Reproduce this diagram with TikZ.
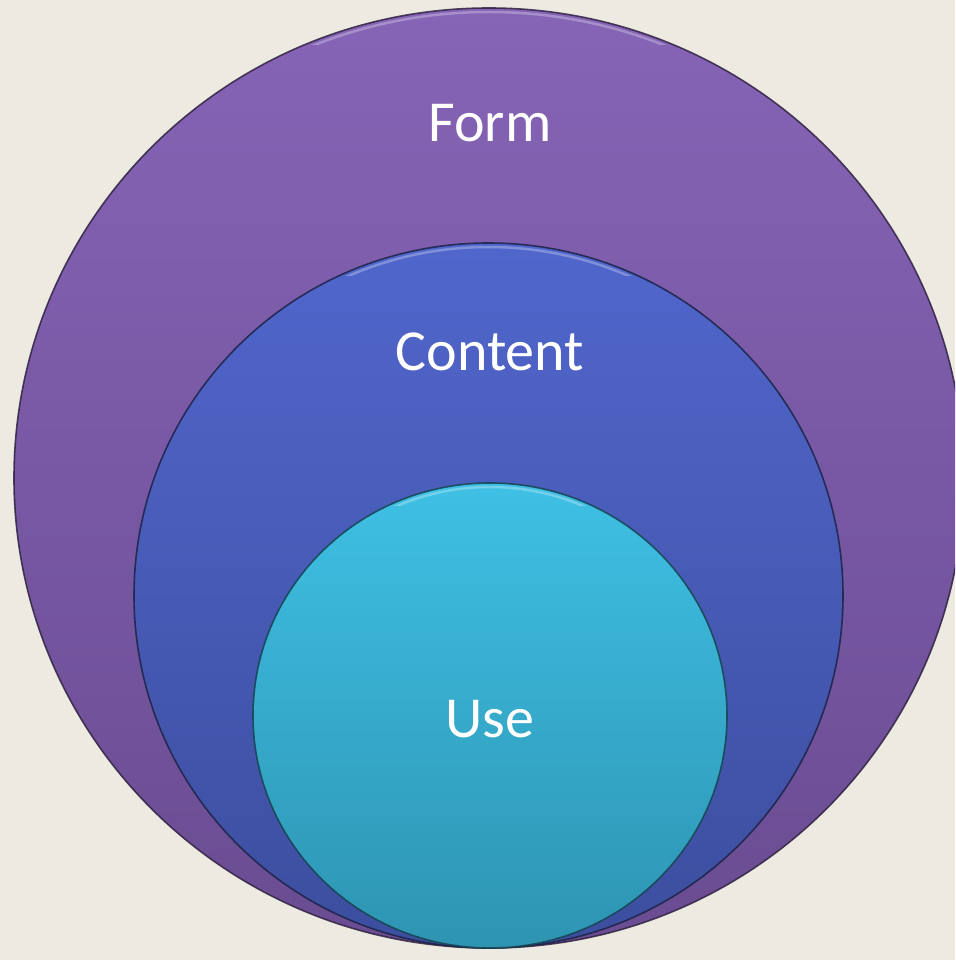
\documentclass[tikz,border=0pt]{standalone}
\usepackage{fontspec}
\setmainfont{Carlito}
\definecolor{bg}{HTML}{EDEBE1}
\definecolor{formtop}{RGB}{134,100,182}
\definecolor{formbot}{RGB}{106,76,146}
\definecolor{conttop}{RGB}{81,102,204}
\definecolor{contbot}{RGB}{60,78,158}
\definecolor{usetop}{RGB}{62,192,228}
\definecolor{usebot}{RGB}{46,148,178}
\tikzset{
  ring/.style={draw=black!55!#1, line width=1.6pt, draw opacity=0.85},
  rim/.style={draw=white, line width=2.5pt, draw opacity=0.28},
  label/.style={text=white, font=\fontsize{58}{70}\selectfont, anchor=base, inner sep=0pt},
}
\begin{document}
\begin{tikzpicture}[x=1pt,y=-1pt]
\useasboundingbox (0,0) rectangle (955,960);
\fill[bg] (0,0) rectangle (955,960);
\begin{scope}
\clip (0,0) rectangle (955,960);
% Form
\draw[ring=formbot, top color=formtop, bottom color=formbot] (489,478) ellipse [x radius=475pt, y radius=470pt];
\begin{scope}
\clip (0,0) rectangle (955,45);
\draw[rim] (489,478) ellipse [x radius=471pt, y radius=466pt];
\end{scope}
% Content
\draw[ring=contbot, top color=conttop, bottom color=contbot] (488.5,595.5) ellipse [x radius=354.5pt, y radius=352.5pt];
\begin{scope}
\clip (0,0) rectangle (955,275);
\draw[rim] (488.5,595.5) ellipse [x radius=350.5pt, y radius=348.5pt];
\end{scope}
% Use
\draw[ring=usebot, top color=usetop, bottom color=usebot] (490,715.5) ellipse [x radius=237pt, y radius=232.5pt];
\begin{scope}
\clip (0,0) rectangle (955,505);
\draw[rim] (490,715.5) ellipse [x radius=233pt, y radius=228.5pt];
\end{scope}
\end{scope}
\node[label] (form) at (490,142) {Form};
\node[label] (content) at (490,370) {Content};
\node[label] (use) at (490,737) {Use};
\end{tikzpicture}
\end{document}
